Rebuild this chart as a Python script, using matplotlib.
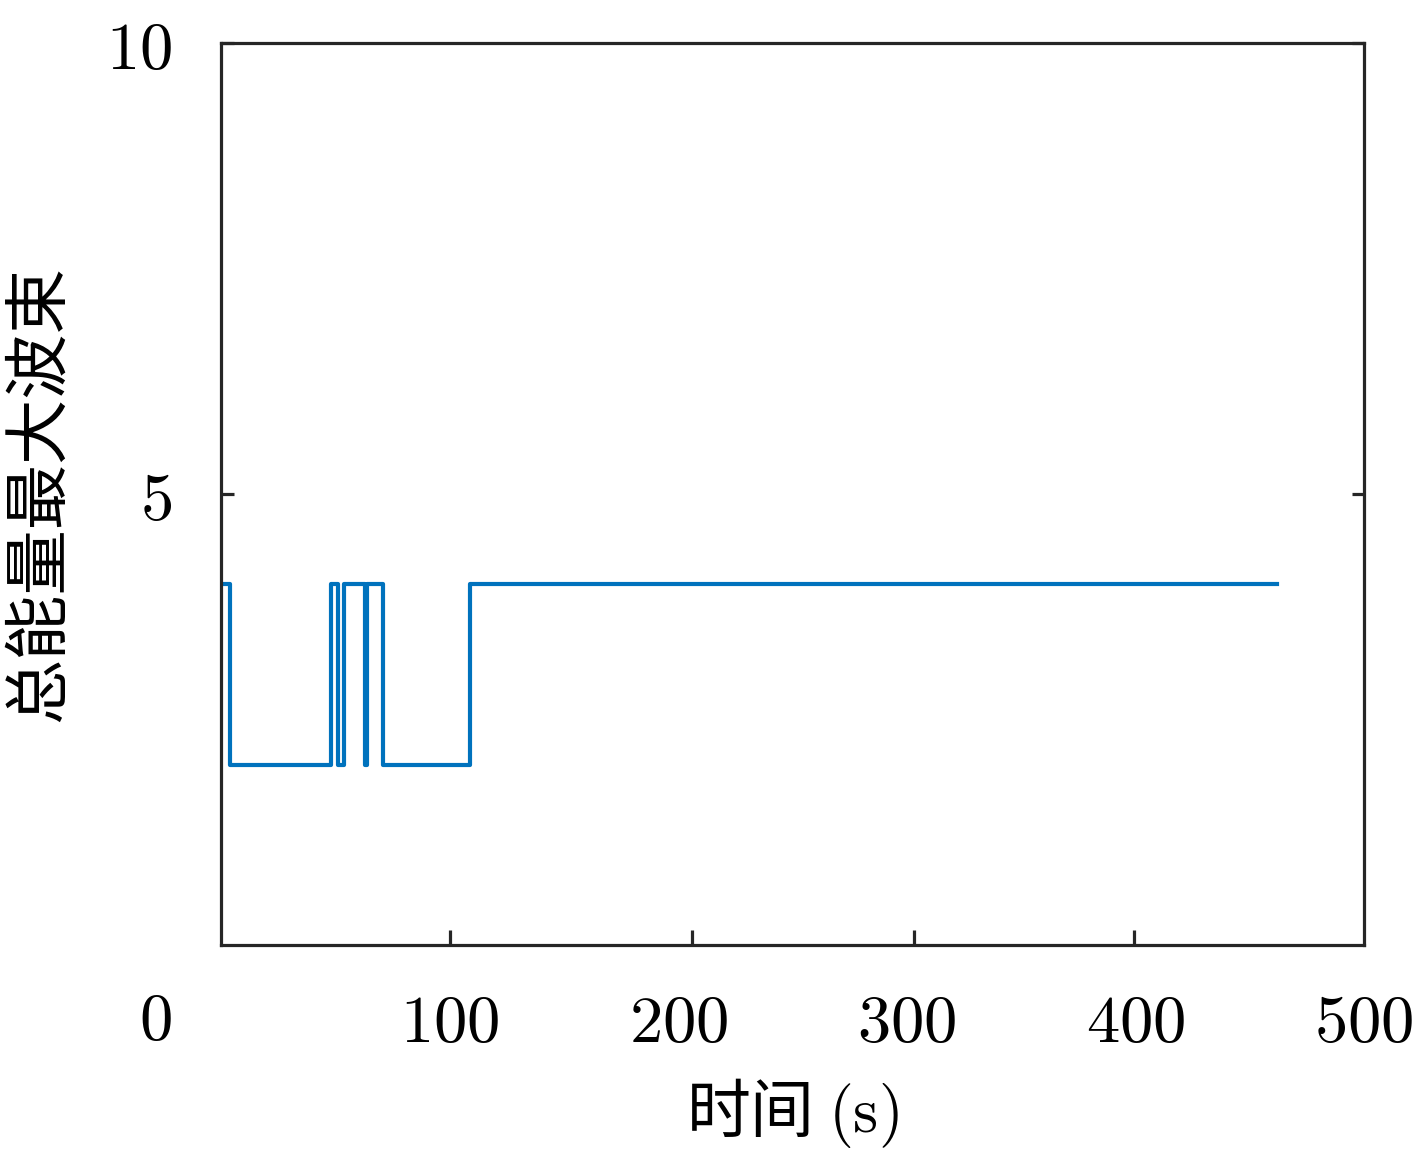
import matplotlib
matplotlib.use("Agg")
import matplotlib.pyplot as plt

# Data
time_s = [1, 4, 48, 51, 54, 63, 64, 71, 109, 462]
beam = [4, 2, 4, 2, 4, 2, 4, 2, 4, 4]

xtick_labels = [100, 200, 300, 400, 500]
xtick_marks = [100.2, 206, 303, 399.4]
ytick_labels = [5, 10]

plt.rcParams['mathtext.fontset'] = 'cm'
plt.rcParams['font.family'] = ['Noto Sans CJK SC', 'DejaVu Sans']

fig = plt.figure(figsize=(14.17, 11.6), dpi=100)
ax = fig.add_axes([0.156, 0.1853, 0.8066, 0.7776])

ax.plot(time_s, beam, drawstyle='steps-post', color='#0072BD', lw=3.0)

ax.set_xlim(0, 500)
ax.set_ylim(0, 10)

ax.set_xticks(xtick_labels)
ax.set_xticklabels([f'${v}$' for v in xtick_labels], fontsize=48)
ax.tick_params(axis='x', which='major', length=0, pad=32)
ax.set_xticks(xtick_marks, minor=True)
ax.tick_params(axis='x', which='minor', direction='in', length=11, width=2.3,
               color='#262626', top=False)

ax.set_yticks(ytick_labels)
ax.set_yticklabels([f'${v}$' for v in ytick_labels], fontsize=48)
ax.tick_params(axis='y', which='major', direction='in', length=9, width=2.3,
               color='#262626', right=True, pad=35)

ax.text(-0.043, -0.085, '$0$', transform=ax.transAxes, fontsize=48,
        ha='right', va='center')

for s in ax.spines.values():
    s.set_linewidth(2.3)
    s.set_color('#262626')

ax.set_xlabel('时间 $(\\mathrm{s})$', fontsize=46, labelpad=14)
ax.set_ylabel('总能量最大波束', fontsize=47, labelpad=24)

fig.savefig('out.png', dpi=100)
